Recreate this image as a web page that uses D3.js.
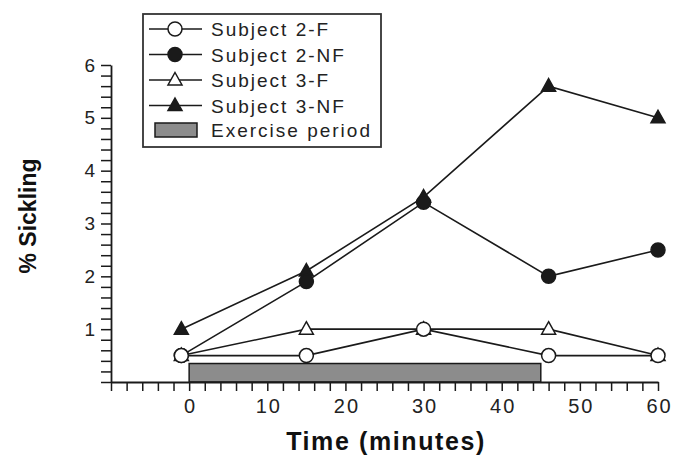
<!DOCTYPE html>
<html>
<head>
<meta charset="utf-8">
<script src="https://cdn.jsdelivr.net/npm/d3@7"></script>
<style>
  body { margin: 0; background: #fff; }
  svg { display: block; font-family: "Liberation Sans", Arial, sans-serif; }
</style>
</head>
<body>
<div id="chart"></div>
<script>
// data
const times = [-1, 15, 30, 46, 60]
const subj2F = [0.5, 0.5, 1.0, 0.5, 0.5]
const subj2NF = [0.5, 1.9, 3.4, 2.0, 2.5]
const subj3F = [0.5, 1.0, 1.0, 1.0, 0.5]
const subj3NF = [1.0, 2.1, 3.5, 5.6, 5.0]
const exercise = [0, 45]        // minutes
const exerciseLevel = 0.35      // bar height in % units
const xTicks = d3.range(-10, 61, 2)
const xLabels = [0, 10, 20, 30, 40, 50, 60]
const yTicks = d3.range(0, 31).map(i => i / 5)
const yLabels = [1, 2, 3, 4, 5, 6]

const width = 685, height = 459
const ink = "#1a1a1a"

// draw order: triangles under circles, open circles on top (they hide the others where they overlap)
const series = [
  { name: "Subject 3-F", values: subj3F, shape: "tri", fill: "#fff" },
  { name: "Subject 3-NF", values: subj3NF, shape: "tri", fill: ink },
  { name: "Subject 2-NF", values: subj2NF, shape: "circ", fill: ink },
  { name: "Subject 2-F", values: subj2F, shape: "circ", fill: "#fff" },
]
const legendOrder = ["Subject 2-F", "Subject 2-NF", "Subject 3-F", "Subject 3-NF"]

const x = d3.scaleLinear().domain([-10, 60]).range([111, 658])
const y = d3.scaleLinear().domain([0, 6]).range([382, 65])

const svg = d3.select("#chart").append("svg")
  .attr("width", width)
  .attr("height", height)

function marker(g, shape, fill) {
  if (shape === "circ") {
    g.append("circle").attr("r", 7)
      .attr("fill", fill).attr("stroke", ink).attr("stroke-width", 1.5)
  } else {
    g.append("path").attr("d", "M0,-7.5L7,5L-7,5Z")
      .attr("fill", fill).attr("stroke", ink).attr("stroke-width", 1.5)
      .attr("stroke-linejoin", "miter")
  }
}

// exercise bar
svg.append("rect")
  .attr("x", x(exercise[0]))
  .attr("y", y(exerciseLevel))
  .attr("width", x(exercise[1]) - x(exercise[0]))
  .attr("height", y(0) - y(exerciseLevel))
  .attr("fill", "#8c8c8c")
  .attr("stroke", ink)
  .attr("stroke-width", 1.5)

// axes
const xAxis = svg.append("g")
  .attr("transform", `translate(0,${y(0)})`)
  .call(d3.axisBottom(x).tickValues(xTicks).tickSize(9).tickSizeOuter(0)
    .tickFormat(d => xLabels.includes(d) ? d : ""))
xAxis.select(".domain").attr("stroke", ink).attr("stroke-width", 1.8)
xAxis.selectAll(".tick line").attr("stroke", ink).attr("stroke-width", 1.5)
xAxis.selectAll(".tick text")
  .attr("y", 17)
  .attr("dx", "1px")
  .attr("fill", "#222")
  .style("font-size", "20px")
  .style("letter-spacing", "2px")
  .style("font-family", "Liberation Sans, Arial, sans-serif")

const yAxis = svg.append("g")
  .attr("transform", `translate(${x(-10)},0)`)
  .call(d3.axisLeft(y).tickValues(yTicks).tickSize(10).tickSizeOuter(0)
    .tickFormat(d => yLabels.includes(Math.round(d * 5) / 5) ? d3.format("d")(d) : ""))
yAxis.select(".domain").attr("stroke", ink).attr("stroke-width", 1.8)
yAxis.selectAll(".tick line").attr("stroke", ink).attr("stroke-width", 1.5)
yAxis.selectAll(".tick text")
  .attr("x", -16)
  .attr("fill", "#222")
  .style("font-size", "19px")
  .style("font-family", "Liberation Sans, Arial, sans-serif")

// axis titles
svg.append("text")
  .attr("x", 386).attr("y", 450)
  .attr("text-anchor", "middle")
  .attr("font-weight", "bold")
  .attr("fill", "#111")
  .style("font-size", "25px")
  .style("letter-spacing", "1.6px")
  .text("Time (minutes)")

svg.append("text")
  .attr("transform", "translate(36,216) rotate(-90)")
  .attr("text-anchor", "middle")
  .attr("font-weight", "bold")
  .attr("fill", "#111")
  .style("font-size", "23px")
  .text("% Sickling")

// lines and markers
const line = d3.line().x((d, i) => x(times[i])).y(d => y(d))
series.forEach(s => {
  svg.append("path")
    .attr("d", line(s.values))
    .attr("fill", "none")
    .attr("stroke", ink)
    .attr("stroke-width", 1.6)
})
series.forEach(s => {
  s.values.forEach((v, i) => {
    const g = svg.append("g").attr("transform", `translate(${x(times[i])},${y(v)})`)
    marker(g, s.shape, s.fill)
  })
})

// legend
const legend = svg.append("g")
legend.append("rect")
  .attr("x", 143).attr("y", 14)
  .attr("width", 238).attr("height", 133)
  .attr("fill", "#fff")
  .attr("stroke", "#333")
  .attr("stroke-width", 1.8)

const rowY = [29, 54.5, 80, 105.5]
legendOrder.forEach((name, i) => {
  const s = series.find(d => d.name === name)
  const row = legend.append("g").attr("transform", `translate(0,${rowY[i]})`)
  row.append("line")
    .attr("x1", 149).attr("x2", 202)
    .attr("stroke", ink).attr("stroke-width", 1.6)
  marker(row.append("g").attr("transform", "translate(175,0)"), s.shape, s.fill)
  row.append("text")
    .attr("x", 211).attr("y", 7)
    .attr("fill", "#222")
    .style("font-size", "19px")
    .style("letter-spacing", "2px")
    .text(name)
})
const exRow = legend.append("g").attr("transform", "translate(0,130)")
exRow.append("rect")
  .attr("x", 155).attr("y", -7)
  .attr("width", 42).attr("height", 14)
  .attr("fill", "#8c8c8c")
  .attr("stroke", ink).attr("stroke-width", 1.5)
exRow.append("text")
  .attr("x", 211).attr("y", 7)
  .attr("fill", "#222")
  .style("font-size", "19px")
  .style("letter-spacing", "2px")
  .text("Exercise period")
</script>
</body>
</html>
